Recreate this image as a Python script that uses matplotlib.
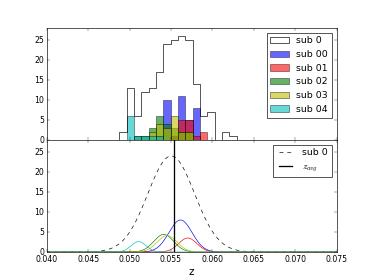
# -*- coding: utf-8 -*-
# Redshift histograms of sub-samples with gaussian fits

import numpy as np
import matplotlib as mpl

mpl.use("Agg")
import matplotlib.pyplot as plt

# ----------------
# Module constants
# ----------------

# histogram bins (redshift)
BIN_LO = 0.04877
BIN_W = 0.000886
N_BINS = 16

# counts per bin
SUB0_COUNTS = [2, 13, 6, 12, 13, 17, 24, 25, 26, 25, 14, 6, 7, 0, 2, 1]
SUB00_COUNTS = [0, 0, 0, 0, 0, 1, 10, 1, 11, 5, 8, 0, 0, 0, 0, 0]
SUB01_COUNTS = [0, 0, 0, 0, 0, 0, 0, 1, 5, 5, 1, 2, 0, 0, 0, 0]
SUB02_COUNTS = [0, 0, 1, 1, 3, 6, 4, 3, 2, 2, 0, 0, 0, 0, 0, 0]
SUB03_COUNTS = [0, 0, 0, 0, 2, 4, 3, 6, 2, 2, 0, 0, 0, 0, 0, 0]
SUB04_COUNTS = [0, 6, 1, 1, 1, 1, 0, 0, 0, 0, 0, 0, 0, 0, 0, 0]

SUB_LABELS = ["sub 00", "sub 01", "sub 02", "sub 03", "sub 04"]
SUB_COLORS = ["b", "r", "g", "y", "c"]

# gaussian fits: mean, sigma, amplitude
FIT_SUB0 = (0.05503, 0.00283, 24.0)
FIT_MEAN = [0.05615, 0.05703, 0.05412, 0.05453, 0.05109]
FIT_SIGMA = [0.00140, 0.00110, 0.00120, 0.00120, 0.00090]
FIT_AMP = [8.0, 3.5, 4.4, 4.1, 2.6]

Z_AVG = 0.05542

plt.style.use("classic")


def gauss(z, mu, sigma, amp):
    return amp * np.exp(-0.5 * ((z - mu) / sigma) ** 2)


def main():
    edges = BIN_LO + BIN_W * np.arange(N_BINS + 1)
    centers = 0.5 * (edges[:-1] + edges[1:])

    fig = plt.figure(figsize=(8, 5.99), dpi=46.75)
    fig.subplots_adjust(left=0.125, right=0.9, bottom=0.1, top=0.9, hspace=0)
    ax1 = fig.add_subplot(2, 1, 1)
    ax2 = fig.add_subplot(2, 1, 2, sharex=ax1)

    # --- top: histograms
    ax1.hist(centers, bins=edges, weights=SUB0_COUNTS, histtype="step",
             color="k", label="sub 0")
    subs = [SUB00_COUNTS, SUB01_COUNTS, SUB02_COUNTS, SUB03_COUNTS, SUB04_COUNTS]
    for counts, color, label in zip(subs, SUB_COLORS, SUB_LABELS):
        ax1.hist(centers, bins=edges, weights=counts, color=color,
                 alpha=0.6, label=label)
    ax1.set_ylim(0, 28)
    ax1.set_yticks([0, 5, 10, 15, 20, 25])
    ax1.legend(loc="upper right")
    plt.setp(ax1.get_xticklabels(), visible=False)

    # --- bottom: gaussian fits
    z = np.linspace(0.040, 0.075, 600)
    ax2.plot(z, gauss(z, *FIT_SUB0), "k--", label="sub 0")
    for mu, sig, amp, color in zip(FIT_MEAN, FIT_SIGMA, FIT_AMP, SUB_COLORS):
        ax2.plot(z, gauss(z, mu, sig, amp), color=color)
    ax2.axvline(Z_AVG, color="k", linewidth=2, label="$z_{avg}$")
    ax2.set_ylim(0, 28)
    ax2.set_yticks([0, 5, 10, 15, 20, 25])
    ax2.set_xlim(0.040, 0.075)
    ax2.set_xticks(np.arange(0.040, 0.0751, 0.005))
    ax2.xaxis.set_major_formatter(mpl.ticker.FormatStrFormatter("%.3f"))
    ax2.set_xlabel("z", fontsize=16)
    ax2.legend(loc="upper right")

    fig.savefig("out.png", dpi=46.75)


if __name__ == "__main__":
    main()
